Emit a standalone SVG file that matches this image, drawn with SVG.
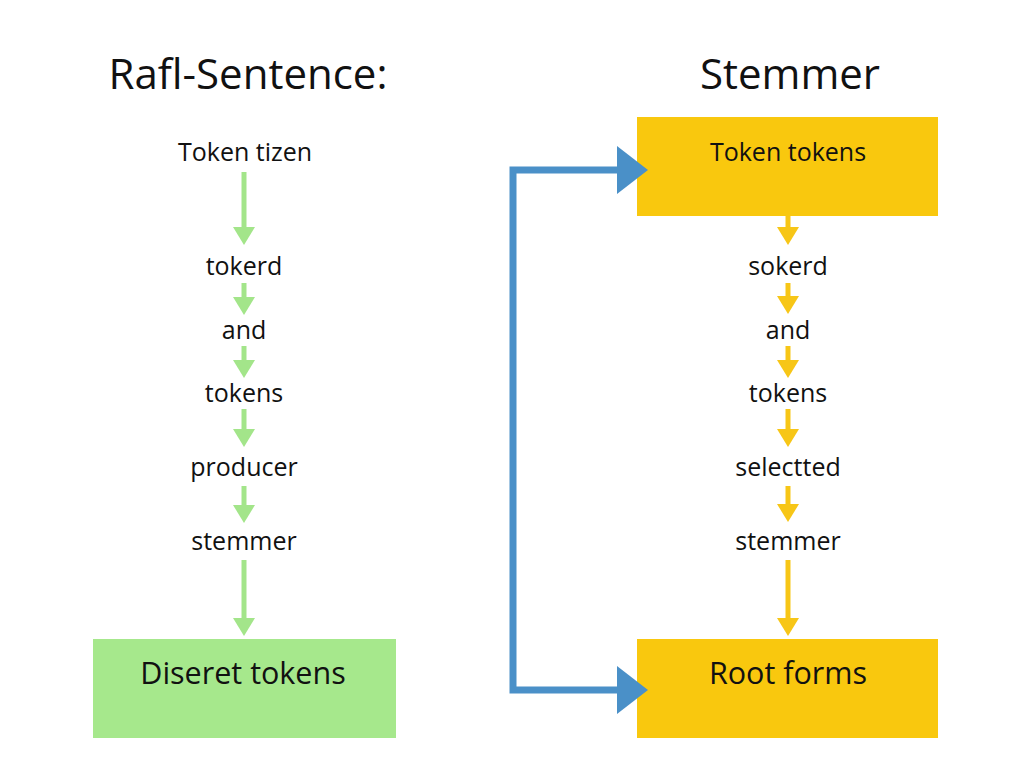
<svg xmlns="http://www.w3.org/2000/svg" width="1024" height="768" viewBox="0 0 1024 768">
<style>
.t{font-family:"Open Sans","Noto Sans","Liberation Sans",sans-serif;fill:#111;text-anchor:middle;dominant-baseline:central}
.title{font-size:42px}
.lbl{font-size:25px}
.box{font-size:30.5px}
.g{stroke:#a3e58a;stroke-width:5;fill:none}
.y{stroke:#f7c617;stroke-width:5;fill:none}
.b{stroke:#4a90c8;stroke-width:7;fill:none}
</style>
<rect width="1024" height="768" fill="#fff"/>
<g id="title-left"><text class="t title" x="248" y="72">Rafl-Sentence:</text></g>
<g id="title-right"><text class="t title" x="790" y="72">Stemmer</text></g>

<g id="n-token-tizen"><text class="t lbl" x="245" y="151">Token tizen</text></g>
<g id="n-tokerd"><text class="t lbl" x="244" y="265">tokerd</text></g>
<g id="n-and-l"><text class="t lbl" x="244" y="329">and</text></g>
<g id="n-tokens-l"><text class="t lbl" x="244" y="392">tokens</text></g>
<g id="n-producer"><text class="t lbl" x="244" y="466">producer</text></g>
<g id="n-stemmer-l"><text class="t lbl" x="244" y="540">stemmer</text></g>
<g id="n-diseret"><rect x="93" y="639" width="303" height="99" fill="#a6e88c"/><text class="t box" x="243" y="672">Diseret tokens</text></g>

<g id="n-token-tokens"><rect x="637" y="117" width="301" height="99" fill="#f9c80e"/><text class="t lbl" x="788" y="151">Token tokens</text></g>
<g id="n-sokerd"><text class="t lbl" x="788" y="265">sokerd</text></g>
<g id="n-and-r"><text class="t lbl" x="788" y="329">and</text></g>
<g id="n-tokens-r"><text class="t lbl" x="788" y="392">tokens</text></g>
<g id="n-selectted"><text class="t lbl" x="788" y="466">selectted</text></g>
<g id="n-stemmer-r"><text class="t lbl" x="788" y="540">stemmer</text></g>
<g id="n-root"><rect x="637" y="639" width="301" height="99" fill="#f9c80e"/><text class="t box" x="788" y="672">Root forms</text></g>

<g id="connectors">
<g fill="#a3e58a">
<line class="g" x1="244" y1="172" x2="244" y2="230"/><path d="M233,227 L255,227 L244,245 Z"/>
<line class="g" x1="244" y1="283" x2="244" y2="300"/><path d="M233,297 L255,297 L244,315 Z"/>
<line class="g" x1="244" y1="346" x2="244" y2="363"/><path d="M233,360 L255,360 L244,378 Z"/>
<line class="g" x1="244" y1="409" x2="244" y2="432"/><path d="M233,429 L255,429 L244,447 Z"/>
<line class="g" x1="244" y1="486" x2="244" y2="508"/><path d="M233,505 L255,505 L244,523 Z"/>
<line class="g" x1="244" y1="560" x2="244" y2="621"/><path d="M233,618 L255,618 L244,636 Z"/>
</g>
<g fill="#f7c617">
<line class="y" x1="788" y1="216" x2="788" y2="230"/><path d="M777,227 L799,227 L788,245 Z"/>
<line class="y" x1="788" y1="283" x2="788" y2="299"/><path d="M777,296 L799,296 L788,314 Z"/>
<line class="y" x1="788" y1="346" x2="788" y2="363"/><path d="M777,360 L799,360 L788,378 Z"/>
<line class="y" x1="788" y1="409" x2="788" y2="432"/><path d="M777,429 L799,429 L788,447 Z"/>
<line class="y" x1="788" y1="486" x2="788" y2="507"/><path d="M777,504 L799,504 L788,522 Z"/>
<line class="y" x1="788" y1="560" x2="788" y2="621"/><path d="M777,618 L799,618 L788,636 Z"/>
</g>
<g id="blue-connector" fill="#4a90c8">
<path class="b" d="M620,170 L513,170 L513,690 L620,690"/>
<path d="M617,146 L648,170 L617,194 Z"/>
<path d="M617,666 L648,690 L617,714 Z"/>
</g>
</g>
</svg>
